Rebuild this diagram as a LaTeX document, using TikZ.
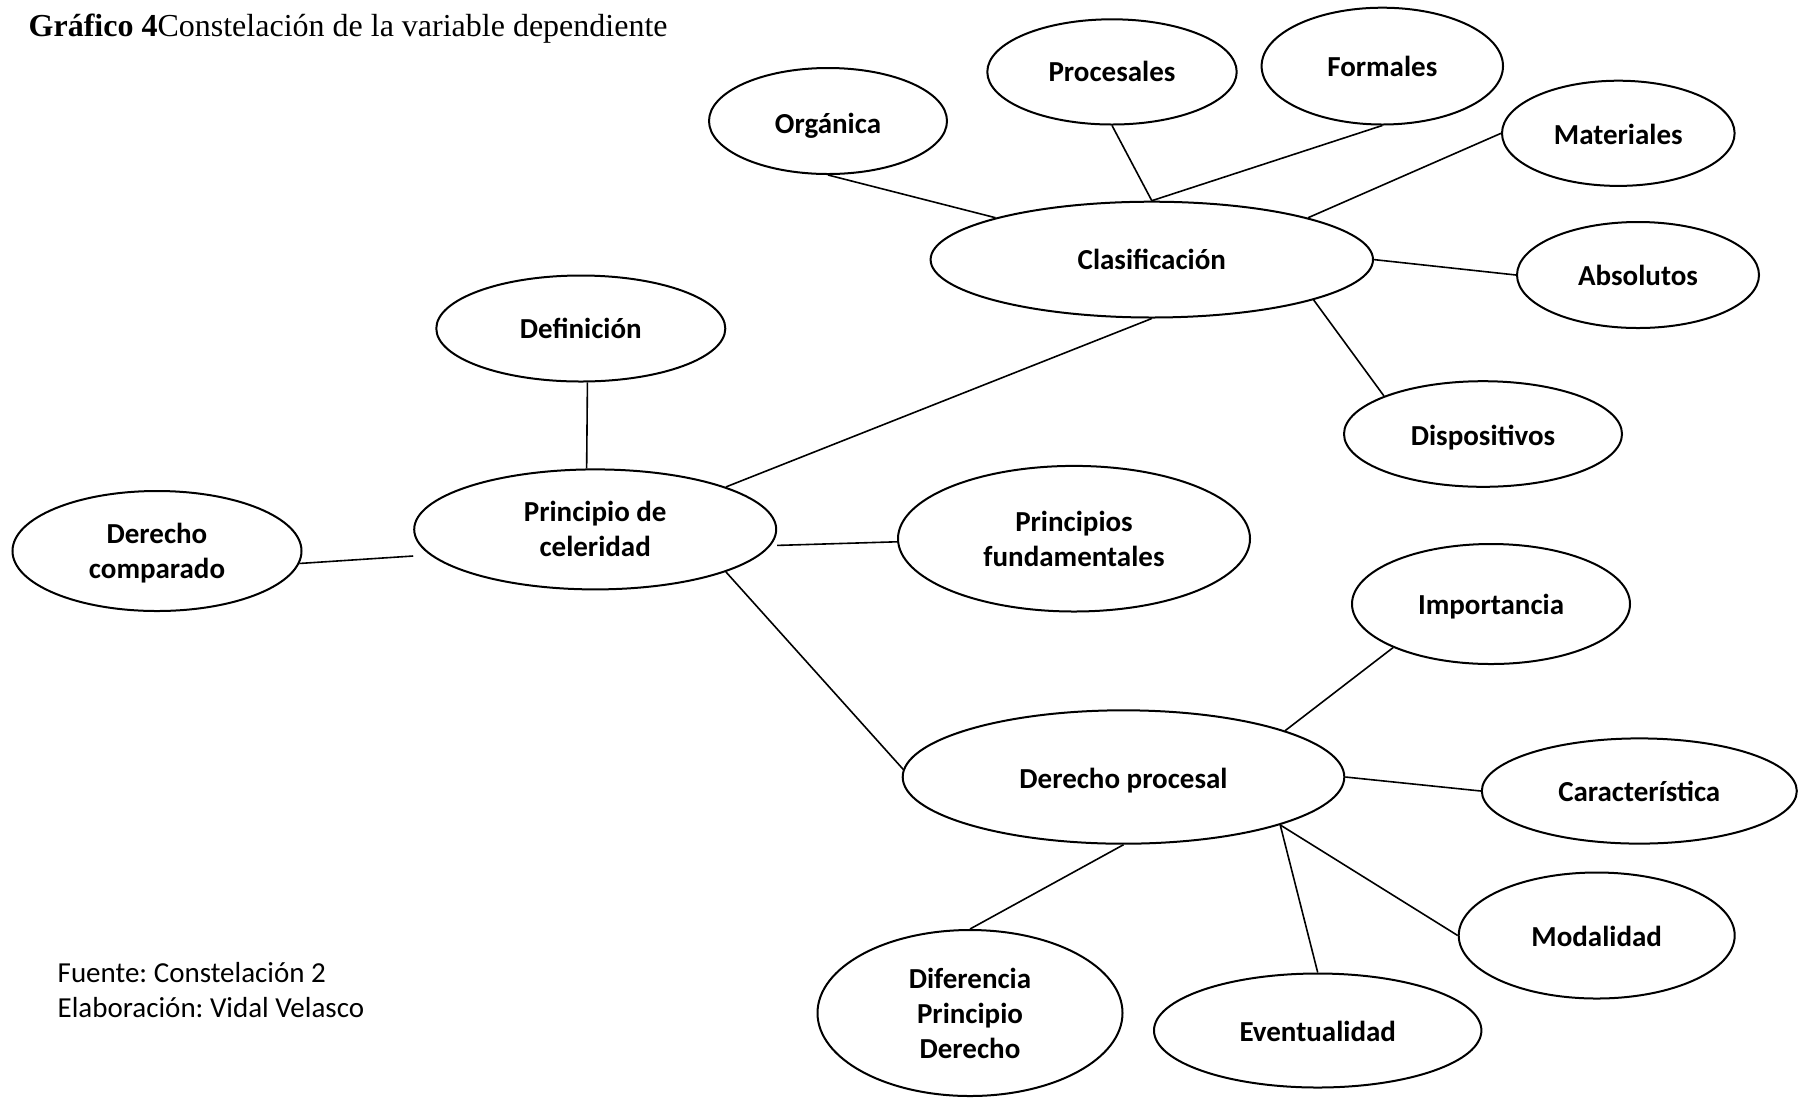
\documentclass[tikz,border=0pt]{standalone}
\usepackage{fontspec}
\setmainfont{Carlito}
\newfontfamily\titlefont{Liberation Serif}
\usetikzlibrary{shapes.geometric}
\newcommand{\lowtxt}[2]{\raisebox{-#1}[\height][\depth]{#2}}
\tikzset{
  bub/.style={ellipse, draw, line width=1pt, inner sep=0pt, align=center,
              font=\bfseries\fontsize{14.5}{17.5}\selectfont},
  link/.style={line width=0.8pt},
  plain/.style={inner sep=0pt, anchor=base west},
}
\begin{document}
\frenchspacing
\begin{tikzpicture}[x=0.5pt, y=-0.5pt]
\useasboundingbox (0,0) rectangle (1798,1099);

% title
\node[plain, font=\titlefont\fontsize{16}{19}\selectfont] (title) at (28.3,36.8)
  {\textbf{Gráfico 4}Constelación de la variable dependiente};

% nodes
\node[bub, minimum width=119pt, minimum height=53pt] (org) at (828,121) {\lowtxt{2.2pt}{Orgánica}};
\node[bub, minimum width=124.7pt, minimum height=52.6pt] (pro) at (1112,71.9) {Procesales};
\node[bub, minimum width=120.7pt, minimum height=58.4pt] (frm) at (1382.3,66.1) {Formales};
\node[bub, minimum width=116.3pt, minimum height=52.6pt] (mat) at (1618.3,133.3) {\lowtxt{0.6pt}{Materiales}};
\node[bub, minimum width=221.2pt, minimum height=57.9pt] (cla) at (1151.8,259.6) {Clasificación};
\node[bub, minimum width=121pt, minimum height=53pt] (abso) at (1638,275) {Absolutos};
\node[bub, minimum width=139pt, minimum height=52.8pt] (dis) at (1483,434) {\lowtxt{1.7pt}{Dispositivos}};
\node[bub, minimum width=144.5pt, minimum height=53pt] (def) at (580.8,328.5) {Definición};
\node[bub, minimum width=181pt, minimum height=60pt] (pc) at (595.2,529.4) {\lowtxt{1.1pt}{\begin{tabular}{@{}c@{}}Principio de\\celeridad\end{tabular}}};
\node[bub, minimum width=144.5pt, minimum height=60pt] (dc) at (157,551) {\lowtxt{1.7pt}{\begin{tabular}{@{}c@{}}Derecho\\comparado\end{tabular}}};
\node[bub, minimum width=176pt, minimum height=72.8pt] (pf) at (1074,538.7) {Principios\\fundamentales};
\node[bub, minimum width=220.8pt, minimum height=66.7pt] (dp) at (1123.5,777) {\lowtxt{1.7pt}{Derecho procesal}};
\node[bub, minimum width=139pt, minimum height=60pt] (imp) at (1491,604) {\lowtxt{1.1pt}{Importancia}};
\node[bub, minimum width=157.5pt, minimum height=52.6pt] (car) at (1639.3,791) {Característica};
\node[bub, minimum width=138pt, minimum height=63pt] (moda) at (1596.7,935.5) {\lowtxt{0.6pt}{Modalidad}};
\node[bub, minimum width=152.5pt, minimum height=83pt] (dif) at (970,1013) {Diferencia\\Principio\\Derecho};
\node[bub, minimum width=163.7pt, minimum height=57pt] (eve) at (1317.7,1030.5) {\lowtxt{0.6pt}{Eventualidad}};

% connectors
\draw[link] (org.south) -- (cla.165.2);
\draw[link] (pro.south) -- (cla.north);
\draw[link] (frm.south) -- (cla.north);
\draw[link] (mat.west) -- (cla.15);
\draw[link] (cla.east) -- (abso.west);
\draw[link] (cla.-14.4) -- (dis.159.1);
\draw[link] (cla.south) -- (pc.18.5);
\draw[link] (def.-83.7) -- (pc.98.1);
\draw[link] (dc.-5.5) -- ([yshift=-13.3pt]pc.west);
\draw[link] ([yshift=-8pt]pc.east) -- (pf.181.6);
\draw[link] (pc.-18.2) -- (dp.178.2);
\draw[link] (dp.16.8) -- (imp.-156);
\draw[link] (dp.east) -- (car.west);
\draw[link] (dp.south) -- (dif.north);
\draw[link] (dp.-17) -- (eve.north);
\draw[link] (dp.-17) -- (moda.west);

% source
\node[plain, font=\fontsize{14.5}{17.5}\selectfont] (fuente) at (57.3,982.2) {Fuente: Constelación 2};
\node[plain, font=\fontsize{14.5}{17.5}\selectfont] (elab) at (57.3,1017.3) {Elaboración: Vidal Velasco};
\end{tikzpicture}
\end{document}
